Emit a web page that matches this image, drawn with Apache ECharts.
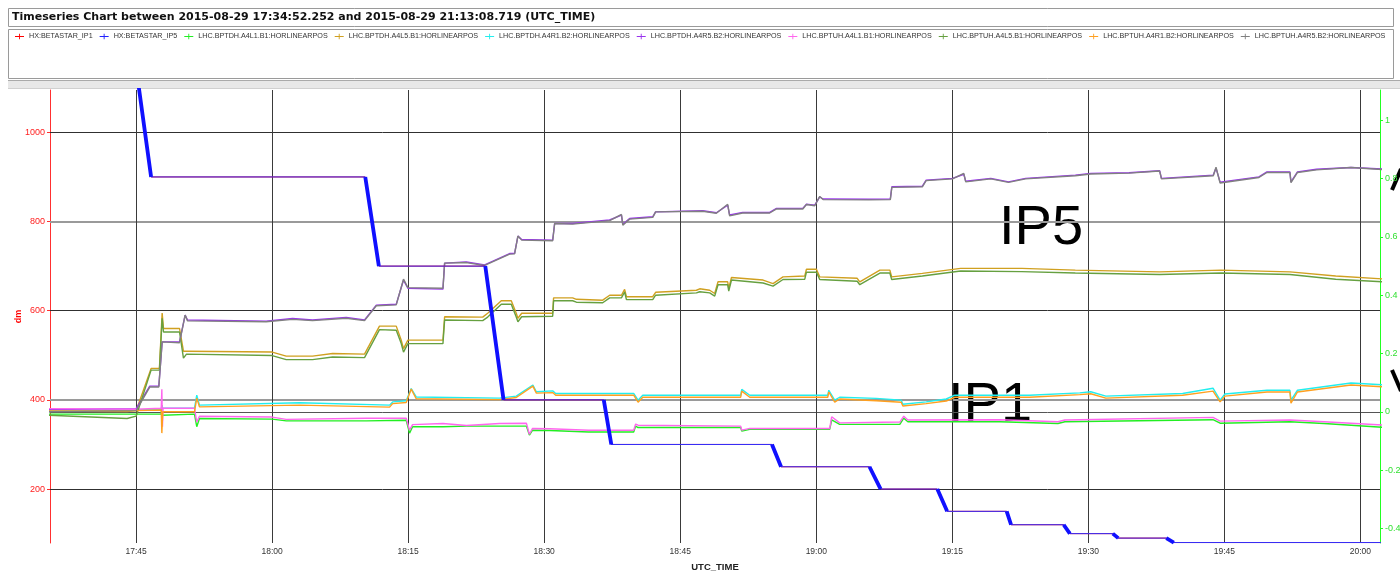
<!DOCTYPE html>
<html>
<head>
<meta charset="utf-8">
<title>Timeseries Chart</title>
<script src="https://cdn.jsdelivr.net/npm/echarts/dist/echarts.min.js"></script>
<style>
  html, body { margin: 0; padding: 0; background: #fff; }
  #chart { width: 1400px; height: 572px; }
</style>
</head>
<body>
<div id="chart"></div>
<script>
var seriesNames = [
  'HX:BETASTAR_IP1', 'HX:BETASTAR_IP5',
  'LHC.BPTDH.A4L1.B1:HORLINEARPOS', 'LHC.BPTDH.A4L5.B1:HORLINEARPOS',
  'LHC.BPTDH.A4R1.B2:HORLINEARPOS', 'LHC.BPTDH.A4R5.B2:HORLINEARPOS',
  'LHC.BPTUH.A4L1.B1:HORLINEARPOS', 'LHC.BPTUH.A4L5.B1:HORLINEARPOS',
  'LHC.BPTUH.A4R1.B2:HORLINEARPOS', 'LHC.BPTUH.A4R5.B2:HORLINEARPOS'
]
var seriesColors = ['#ff0000', '#2222ff', '#22ee22', '#d0a020', '#22eeee',
  '#9933ee', '#ff66ee', '#66a040', '#ffa020', '#808080']

var xTickLabels = ['17:45', '18:00', '18:15', '18:30', '18:45', '19:00', '19:15', '19:30', '19:45', '20:00']
var leftGridValues = [200, 400, 600, 800, 1000]

// beta* (dm), IP1 and IP5 were levelled together so both share these steps
var betaStar = [
  ['17:34:52', 1100], ['17:45:18', 1100], ['17:46:39', 900], ['18:10:16', 900],
  ['18:11:46', 700], ['18:23:30', 700], ['18:25:31', 400], ['18:36:34', 400],
  ['18:37:24', 300], ['18:55:07', 300], ['18:56:07', 250], ['19:05:52', 250],
  ['19:07:06', 200], ['19:13:21', 200], ['19:14:26', 150], ['19:21:00', 150],
  ['19:21:29', 120], ['19:27:17', 120], ['19:27:58', 100], ['19:32:42', 100],
  ['19:33:18', 90], ['19:38:36', 90], ['19:39:26', 80], ['20:03:00', 80]
]

// [time, BPTDH.A4R5.B2, BPTUH.A4R5.B2]
var ip5Upper = [
  ['17:34:52', 0.008, 0.000], ['17:45:00', 0.011, 0.004], ['17:46:30', 0.088, 0.085],
  ['17:47:30', 0.088, 0.085], ['17:47:52', 0.240, 0.240], ['17:49:47', 0.240, 0.237],
  ['17:50:24', 0.332, 0.332], ['17:50:40', 0.315, 0.312], ['17:59:20', 0.311, 0.309],
  ['18:02:15', 0.320, 0.317], ['18:04:27', 0.315, 0.313], ['18:08:10', 0.324, 0.321],
  ['18:10:11', 0.315, 0.313], ['18:11:29', 0.366, 0.364], ['18:13:41', 0.369, 0.367],
  ['18:14:29', 0.452, 0.455], ['18:14:58', 0.424, 0.426], ['18:18:50', 0.421, 0.424],
  ['18:19:01', 0.510, 0.510], ['18:21:25', 0.514, 0.512], ['18:23:26', 0.504, 0.502],
  ['18:26:11', 0.543, 0.541], ['18:26:44', 0.544, 0.542], ['18:27:06', 0.603, 0.603],
  ['18:27:31', 0.591, 0.589], ['18:30:56', 0.589, 0.587], ['18:31:09', 0.646, 0.646],
  ['18:33:08', 0.646, 0.644], ['18:37:13', 0.658, 0.656], ['18:38:31', 0.675, 0.677],
  ['18:38:40', 0.643, 0.640], ['18:39:25', 0.663, 0.661], ['18:41:58', 0.669, 0.667],
  ['18:42:17', 0.686, 0.686], ['18:47:29', 0.690, 0.688], ['18:48:59', 0.683, 0.681],
  ['18:50:14', 0.709, 0.712], ['18:50:27', 0.675, 0.672], ['18:51:53', 0.684, 0.682],
  ['18:54:52', 0.684, 0.682], ['18:55:37', 0.698, 0.696], ['18:58:31', 0.698, 0.696],
  ['18:58:55', 0.712, 0.711], ['18:59:50', 0.709, 0.707], ['19:00:23', 0.737, 0.739],
  ['19:00:45', 0.730, 0.728], ['19:05:47', 0.729, 0.727], ['19:08:10', 0.730, 0.728],
  ['19:08:20', 0.772, 0.770], ['19:11:42', 0.774, 0.772], ['19:12:07', 0.795, 0.793],
  ['19:15:02', 0.801, 0.799], ['19:16:16', 0.815, 0.818], ['19:16:29', 0.791, 0.789],
  ['19:19:15', 0.801, 0.799], ['19:21:12', 0.789, 0.787], ['19:23:05', 0.801, 0.799],
  ['19:28:34', 0.812, 0.810], ['19:30:16', 0.818, 0.816], ['19:34:29', 0.820, 0.819],
  ['19:37:52', 0.827, 0.826], ['19:38:04', 0.801, 0.799], ['19:43:47', 0.812, 0.810],
  ['19:44:05', 0.836, 0.839], ['19:44:32', 0.788, 0.785], ['19:48:49', 0.806, 0.804],
  ['19:49:42', 0.823, 0.821], ['19:52:14', 0.823, 0.821], ['19:52:21', 0.789, 0.786],
  ['19:53:04', 0.823, 0.821], ['19:55:10', 0.832, 0.830], ['19:58:58', 0.838, 0.838],
  ['20:03:00', 0.832, 0.830]
]

// [time, BPTDH.A4L5.B1, BPTUH.A4L5.B1]
var ip5Lower = [
  ['17:34:52', 0.002, -0.011], ['17:44:00', 0.001, -0.023], ['17:45:00', 0.004, -0.015],
  ['17:46:39', 0.149, 0.143], ['17:47:34', 0.149, 0.143], ['17:47:52', 0.339, 0.321],
  ['17:48:01', 0.286, 0.274], ['17:49:47', 0.286, 0.274], ['17:50:13', 0.208, 0.184],
  ['17:50:33', 0.208, 0.198], ['18:00:00', 0.205, 0.193], ['18:01:33', 0.191, 0.179],
  ['18:04:27', 0.191, 0.179], ['18:06:40', 0.200, 0.188], ['18:10:11', 0.198, 0.186],
  ['18:11:50', 0.294, 0.282], ['18:13:41', 0.294, 0.280], ['18:14:14', 0.246, 0.234],
  ['18:14:29', 0.217, 0.205], ['18:14:58', 0.246, 0.234], ['18:18:50', 0.246, 0.234],
  ['18:19:01', 0.326, 0.315], ['18:23:13', 0.325, 0.313], ['18:23:46', 0.338, 0.325],
  ['18:25:16', 0.381, 0.369], ['18:26:22', 0.381, 0.369], ['18:26:55', 0.338, 0.325],
  ['18:27:06', 0.321, 0.309], ['18:27:31', 0.338, 0.326], ['18:30:56', 0.338, 0.328],
  ['18:31:02', 0.391, 0.381], ['18:33:08', 0.391, 0.381], ['18:33:33', 0.386, 0.376],
  ['18:36:27', 0.383, 0.374], ['18:37:13', 0.400, 0.391], ['18:38:31', 0.400, 0.391],
  ['18:38:52', 0.420, 0.411], ['18:39:04', 0.395, 0.385], ['18:41:58', 0.395, 0.385],
  ['18:42:17', 0.410, 0.400], ['18:46:47', 0.417, 0.408], ['18:47:09', 0.422, 0.412],
  ['18:48:15', 0.417, 0.408], ['18:48:48', 0.406, 0.397], ['18:49:10', 0.446, 0.436],
  ['18:50:14', 0.446, 0.436], ['18:50:21', 0.423, 0.414], ['18:50:39', 0.461, 0.452],
  ['18:54:08', 0.452, 0.442], ['18:55:14', 0.440, 0.431], ['18:56:20', 0.463, 0.454],
  ['18:58:44', 0.466, 0.455], ['18:58:55', 0.489, 0.479], ['19:00:01', 0.489, 0.479],
  ['19:00:23', 0.463, 0.454], ['19:04:31', 0.458, 0.448], ['19:04:48', 0.446, 0.436],
  ['19:07:01', 0.486, 0.476], ['19:08:07', 0.486, 0.476], ['19:08:19', 0.463, 0.454],
  ['19:11:42', 0.475, 0.466], ['19:15:55', 0.492, 0.483], ['19:22:40', 0.492, 0.481],
  ['19:28:34', 0.486, 0.476], ['19:37:52', 0.480, 0.471], ['19:44:38', 0.486, 0.476],
  ['19:52:14', 0.480, 0.471], ['19:57:17', 0.466, 0.455], ['20:03:00', 0.455, 0.445]
]

// [time, BPTDH.A4R1.B2, BPTUH.A4R1.B2]
var ip1Upper = [
  ['17:34:52', 0.006, 0.003], ['17:45:00', 0.006, 0.004], ['17:47:46', 0.009, 0.006],
  ['17:47:50', 0.020, -0.073], ['17:47:56', 0.012, 0.000], ['17:51:26', 0.012, 0.000],
  ['17:51:41', 0.057, 0.047], ['17:51:59', 0.023, 0.017], ['18:03:01', 0.031, 0.023],
  ['18:12:57', 0.023, 0.016], ['18:13:17', 0.034, 0.028], ['18:14:47', 0.038, 0.032],
  ['18:15:20', 0.080, 0.078], ['18:15:53', 0.051, 0.045], ['18:25:05', 0.047, 0.042],
  ['18:26:55', 0.054, 0.049], ['18:28:45', 0.092, 0.088], ['18:29:08', 0.069, 0.064],
  ['18:30:56', 0.072, 0.066], ['18:31:16', 0.063, 0.057], ['18:39:52', 0.063, 0.057],
  ['18:40:21', 0.040, 0.033], ['18:40:52', 0.057, 0.050], ['18:51:40', 0.057, 0.050],
  ['18:51:47', 0.077, 0.071], ['18:52:40', 0.057, 0.050], ['19:01:16', 0.057, 0.050],
  ['19:01:23', 0.074, 0.068], ['19:02:02', 0.040, 0.033], ['19:02:35', 0.050, 0.044],
  ['19:06:37', 0.046, 0.038], ['19:09:22', 0.040, 0.033], ['19:09:33', 0.026, 0.020],
  ['19:12:07', 0.034, 0.028], ['19:14:20', 0.044, 0.037], ['19:15:17', 0.057, 0.050],
  ['19:23:31', 0.057, 0.050], ['19:29:04', 0.065, 0.059], ['19:30:16', 0.069, 0.062],
  ['19:31:56', 0.054, 0.047], ['19:40:24', 0.063, 0.057], ['19:43:45', 0.081, 0.071],
  ['19:44:32', 0.040, 0.034], ['19:45:04', 0.061, 0.054], ['19:49:42', 0.074, 0.068],
  ['19:52:14', 0.074, 0.068], ['19:52:21', 0.040, 0.030], ['19:53:04', 0.074, 0.068],
  ['19:58:58', 0.099, 0.092], ['20:03:00', 0.092, 0.085]
]

// [time, BPTDH.A4L1.B1, BPTUH.A4L1.B1]
var ip1Lower = [
  ['17:34:52', -0.008, 0.011], ['17:45:00', -0.008, 0.009], ['17:47:46', -0.008, 0.012],
  ['17:47:50', 0.023, 0.077], ['17:47:54', -0.012, -0.051], ['17:47:58', -0.008, 0.012],
  ['17:51:26', -0.008, 0.012], ['17:51:41', -0.051, -0.035], ['17:51:59', -0.023, -0.015],
  ['18:00:00', -0.025, -0.018], ['18:01:33', -0.031, -0.026], ['18:10:23', -0.031, -0.022],
  ['18:14:47', -0.029, -0.022], ['18:15:09', -0.073, -0.063], ['18:15:29', -0.051, -0.044],
  ['18:18:50', -0.051, -0.040], ['18:21:25', -0.049, -0.047], ['18:25:05', -0.049, -0.040],
  ['18:28:02', -0.049, -0.039], ['18:28:22', -0.080, -0.077], ['18:28:43', -0.063, -0.057],
  ['18:30:36', -0.064, -0.058], ['18:34:54', -0.069, -0.063], ['18:39:52', -0.069, -0.063],
  ['18:40:05', -0.049, -0.042], ['18:40:21', -0.054, -0.046], ['18:51:40', -0.054, -0.049],
  ['18:51:47', -0.066, -0.063], ['18:52:40', -0.060, -0.057], ['19:01:29', -0.060, -0.057],
  ['19:01:42', -0.028, -0.017], ['19:02:35', -0.043, -0.038], ['19:09:13', -0.043, -0.035],
  ['19:09:39', -0.022, -0.015], ['19:10:06', -0.034, -0.028], ['19:20:15', -0.034, -0.027],
  ['19:26:39', -0.040, -0.034], ['19:27:25', -0.034, -0.028], ['19:43:45', -0.027, -0.019],
  ['19:44:32', -0.039, -0.032], ['19:52:14', -0.034, -0.028], ['19:56:00', -0.040, -0.034],
  ['20:03:00', -0.054, -0.046]
]

function toTime(s) {
  var p = s.split(':').map(Number)
  return Date.UTC(2015, 7, 29, p[0], p[1], p[2] || 0)
}
function pick(rows, col) {
  return rows.map(function(r) { return [toTime(r[0]), r[col]] })
}
// only the segments where beta* is changing, drawn thicker like the logger does
function rampData(rows) {
  var out = []
  for (var i = 1; i < rows.length; i++) {
    if (rows[i][1] !== rows[i - 1][1]) {
      out.push([toTime(rows[i - 1][0]), rows[i - 1][1]])
      out.push([toTime(rows[i][0]), rows[i][1]])
      out.push([toTime(rows[i][0]), '-'])
    }
  }
  return out
}
function pad(n) { return n < 10 ? '0' + n : '' + n }

function posLine(idx, rows, col) {
  return {
    name: seriesNames[idx], type: 'line', yAxisIndex: 1, data: pick(rows, col),
    showSymbol: false, color: seriesColors[idx],
    itemStyle: { color: seriesColors[idx] },
    lineStyle: { width: 1.4, color: seriesColors[idx] }
  }
}

var xTicks = xTickLabels.map(toTime)

var gridLines = leftGridValues.map(function(v, i) {
  return { yAxis: v, lineStyle: { type: 'solid', color: i % 2 ? '#9a9a9a' : '#303030', width: i % 2 ? 2 : 1 } }
}).concat(xTicks.map(function(t) {
  return { xAxis: t, lineStyle: { type: 'solid', color: '#3a3a3a', width: 1 } }
}))

var chart = echarts.init(document.getElementById('chart'))
chart.setOption({
  animation: false,
  backgroundColor: '#fff',
  legend: {
    data: seriesNames.map(function(n, i) { return { name: n, itemStyle: { color: seriesColors[i] } } }),
    left: 15,
    top: 33,
    padding: 0,
    itemWidth: 9,
    itemHeight: 7,
    itemGap: 7,
    icon: 'path://M0,3h10v1h-10z M4.5,0.5h1v6h-1z',
    textStyle: { fontFamily: '"Liberation Sans", sans-serif', fontSize: 7.2, color: '#333' }
  },
  grid: { left: 50, right: 20, top: 90, bottom: 29, outerBoundsMode: 'none', containLabel: false },
  xAxis: {
    type: 'value',
    min: toTime('17:35:30'),
    max: toTime('20:02:10'),
    name: 'UTC_TIME',
    nameLocation: 'middle',
    nameGap: 19,
    nameMoveOverlap: false,
    nameTextStyle: { fontWeight: 'bold', fontSize: 9.5, color: '#222', fontFamily: 'Liberation Sans' },
    axisLine: { lineStyle: { color: '#555' } },
    axisTick: { length: 3, customValues: xTicks, lineStyle: { color: '#555' } },
    axisLabel: {
      margin: 4, fontSize: 8.5, color: '#333', fontFamily: 'Liberation Sans',
      customValues: xTicks,
      formatter: function(v) {
        var d = new Date(v)
        return pad(d.getUTCHours()) + ':' + pad(d.getUTCMinutes())
      }
    },
    splitLine: { show: false }
  },
  yAxis: [
    {
      type: 'value', position: 'left', min: 79, max: 1095, splitNumber: 5,
      name: 'dm', nameLocation: 'middle', nameGap: 27, nameMoveOverlap: false,
      nameTextStyle: { color: '#ff0000', fontWeight: 'bold', fontSize: 9, fontFamily: 'Liberation Sans' },
      axisLine: { show: true, lineStyle: { color: '#ff3030' } },
      axisTick: { show: true, length: 3, lineStyle: { color: '#ff3030' } },
      axisLabel: {
        color: '#ff2020', fontSize: 9, margin: 5, fontFamily: 'Liberation Sans',
        showMinLabel: false, showMaxLabel: false,
        formatter: function(v) { return String(v) }
      },
      splitLine: { show: false }
    },
    {
      type: 'value', position: 'right', min: -0.45, max: 1.104, splitNumber: 8,
      axisLine: { show: true, lineStyle: { color: '#22ff22' } },
      axisTick: { show: true, length: 3, lineStyle: { color: '#22ff22' } },
      axisLabel: {
        color: '#33e033', fontSize: 9, margin: 5, fontFamily: 'Liberation Sans',
        showMinLabel: false, showMaxLabel: false,
        formatter: function(v) { return String(Math.round(v * 10) / 10) }
      },
      splitLine: { show: false }
    }
  ],
  series: [
    posLine(2, ip1Lower, 1),
    posLine(3, ip5Lower, 1),
    posLine(4, ip1Upper, 1),
    posLine(5, ip5Upper, 1),
    posLine(6, ip1Lower, 2),
    posLine(7, ip5Lower, 2),
    posLine(8, ip1Upper, 2),
    posLine(9, ip5Upper, 2),
    {
      name: seriesNames[0], type: 'line', yAxisIndex: 0, data: pick(betaStar, 1),
      showSymbol: false, color: seriesColors[0], itemStyle: { color: seriesColors[0] },
      lineStyle: { width: 1, color: seriesColors[0] },
      markLine: {
        silent: true, symbol: ['none', 'none'], z: 1, animation: false,
        label: { show: false },
        data: gridLines
      }
    },
    {
      name: seriesNames[1], type: 'line', yAxisIndex: 0, data: pick(betaStar, 1),
      showSymbol: false, color: seriesColors[1], itemStyle: { color: seriesColors[1] },
      lineStyle: { width: 1, color: '#3030ff' }
    },
    {
      name: 'beta ramp', type: 'line', yAxisIndex: 0, data: rampData(betaStar),
      showSymbol: false, connectNulls: false, lineStyle: { width: 3.8, color: '#1010ff' }
    }
  ],
  graphic: [
    { type: 'rect', shape: { x: 8.5, y: 8.5, width: 1385, height: 18 }, style: { fill: '#fff', stroke: '#9a9a9a' }, silent: true },
    { type: 'text', x: 12, y: 17.5, silent: true,
      style: { text: 'Timeseries Chart between 2015-08-29 17:34:52.252 and 2015-08-29 21:13:08.719 (UTC_TIME)',
        font: 'bold 11px "DejaVu Sans", sans-serif', fill: '#111', verticalAlign: 'middle', textVerticalAlign: 'middle' } },
    { type: 'rect', shape: { x: 8.5, y: 29.5, width: 1385, height: 49 }, style: { fill: 'none', stroke: '#9a9a9a' }, silent: true },
    { type: 'rect', shape: { x: 8, y: 80, width: 1392, height: 8 }, style: { fill: '#e8e8e8' }, silent: true },
    { type: 'line', shape: { x1: 8, y1: 80.5, x2: 1400, y2: 80.5 }, style: { stroke: '#aaaaaa' }, silent: true },
    { type: 'line', shape: { x1: 8, y1: 88.5, x2: 1400, y2: 88.5 }, style: { stroke: '#d0d0d0' }, silent: true },
    { type: 'text', x: 999, y: 229, silent: true,
      style: { text: 'IP5', font: '56px "Liberation Sans", sans-serif', fill: '#000', verticalAlign: 'middle', textVerticalAlign: 'middle' } },
    { type: 'text', x: 948, y: 406, silent: true,
      style: { text: 'IP1', font: '56px "Liberation Sans", sans-serif', fill: '#000', verticalAlign: 'middle', textVerticalAlign: 'middle' } },
    { type: 'line', shape: { x1: 1392, y1: 190, x2: 1401, y2: 169 }, style: { stroke: '#000', lineWidth: 4 }, silent: true },
    { type: 'line', shape: { x1: 1392, y1: 370, x2: 1401, y2: 391 }, style: { stroke: '#000', lineWidth: 4 }, silent: true }
  ]
})
</script>
</body>
</html>
